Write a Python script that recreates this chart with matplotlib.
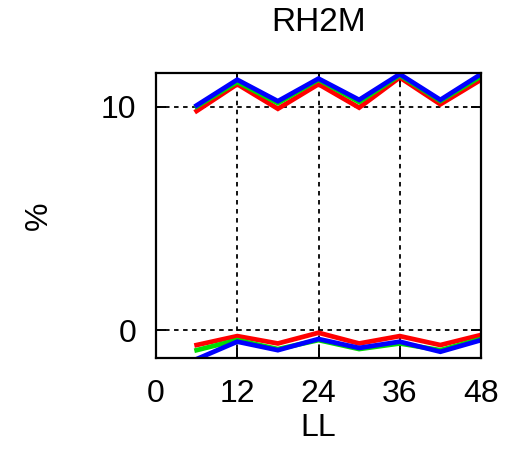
import matplotlib
matplotlib.use("Agg")
import matplotlib.pyplot as plt

plt.rcParams['font.family'] = ['Liberation Sans', 'DejaVu Sans']

lead = [6, 12, 18, 24, 30, 36, 42, 48]
upper_red = [9.8, 11.0, 9.9, 11.0, 9.95, 11.3, 10.1, 11.2]
upper_green = [10.0, 11.1, 10.15, 11.2, 10.2, 11.4, 10.25, 11.35]
upper_blue = [10.05, 11.2, 10.24, 11.25, 10.3, 11.45, 10.3, 11.45]
lower_red = [-0.67, -0.27, -0.6, -0.12, -0.6, -0.27, -0.67, -0.22]
lower_green = [-0.9, -0.45, -0.85, -0.45, -0.85, -0.6, -0.9, -0.4]
lower_blue = [-1.3, -0.52, -0.9, -0.4, -0.8, -0.52, -0.97, -0.45]

xticks = [0, 12, 24, 36, 48]
yticks = [0, 10]

fig = plt.figure(figsize=(5.18, 4.59), dpi=100)
ax = fig.add_axes([156/518, 1-358/459, 325/518, 285/459])

for ys, c in [(upper_red, 'red'), (upper_green, '#00dd00'), (upper_blue, 'blue'),
              (lower_red, 'red'), (lower_green, '#00dd00'), (lower_blue, 'blue')]:
    ax.plot(lead, ys, color=c, lw=3.4, solid_joinstyle='miter')

ax.set_xlim(0, 48)
ax.set_ylim(-1.25, 11.5)
ax.set_xticks(xticks)
ax.set_yticks(yticks)
ax.grid(True, color='black', linestyle=(0, (2.5, 2.5)), lw=1.3)
ax.tick_params(direction='in', top=True, right=True, length=7, width=1.4,
               labelsize=23, pad=15)
ax.tick_params(axis='y', pad=14)
for s in ax.spines.values():
    s.set_linewidth(1.6)

ax.set_title('RH2M', fontsize=24, pad=30)
ax.set_xlabel('LL', fontsize=23, labelpad=3)
ax.set_ylabel('%', fontsize=23, labelpad=34)

fig.savefig('out.png', dpi=100)
